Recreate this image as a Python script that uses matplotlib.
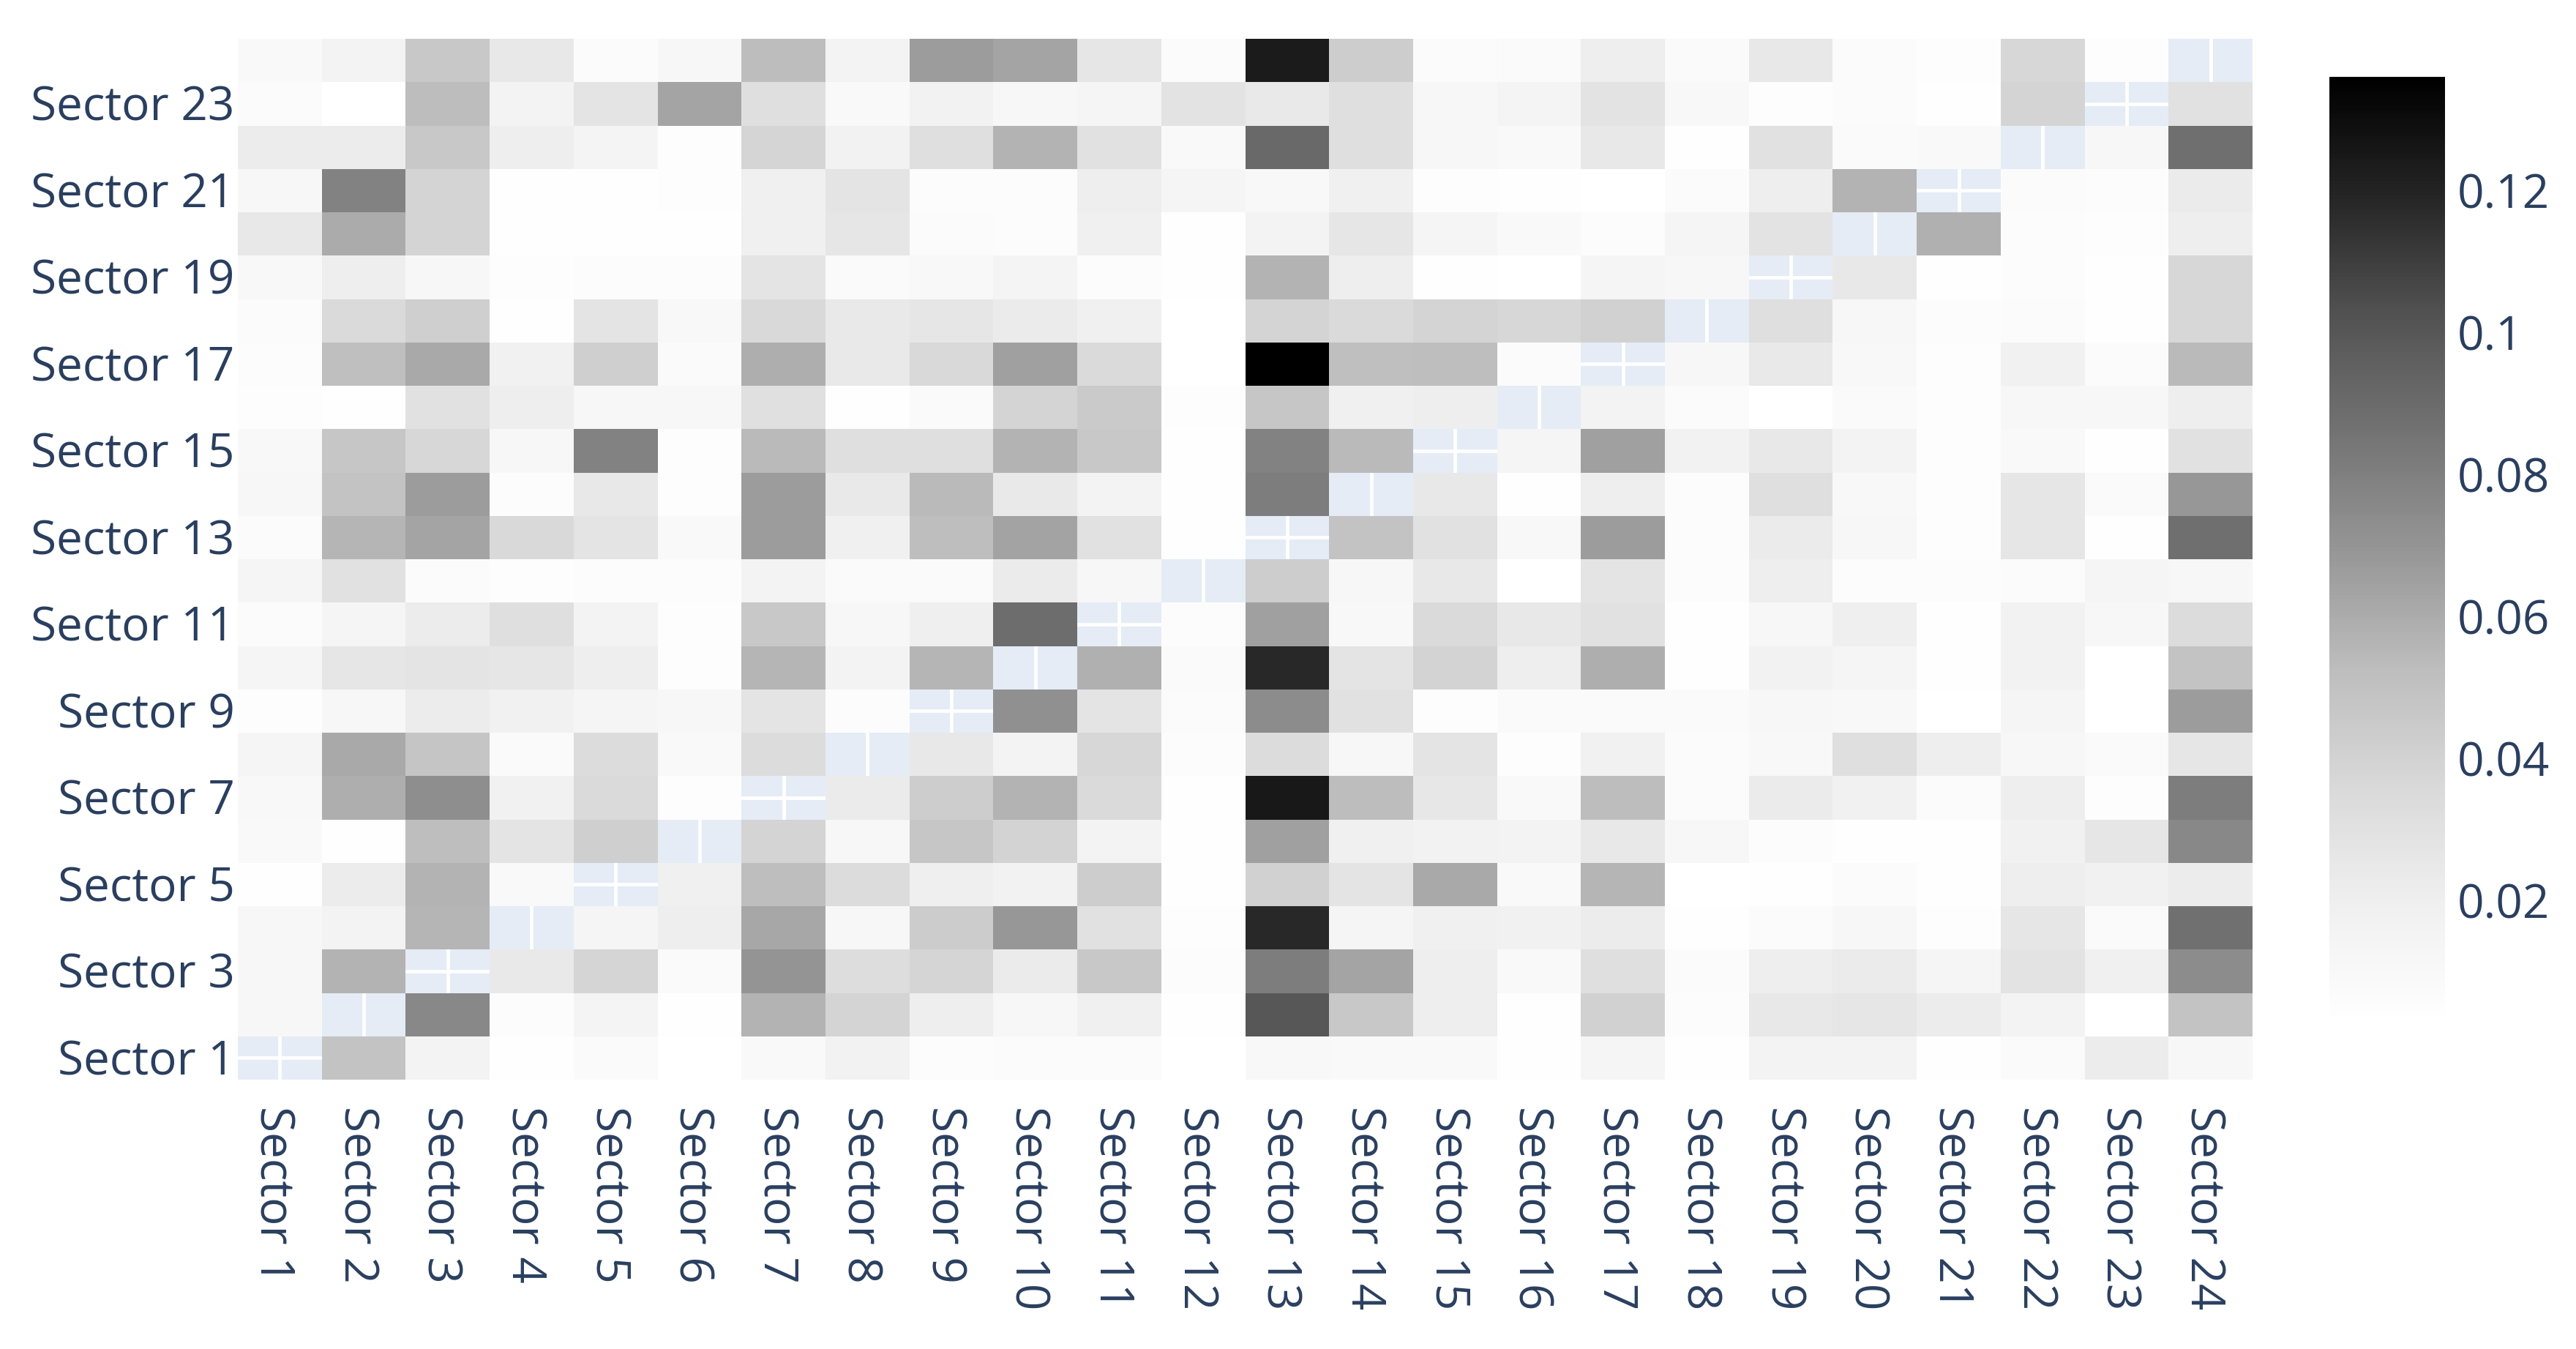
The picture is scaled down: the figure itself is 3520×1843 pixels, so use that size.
import numpy as np
import matplotlib
matplotlib.use("Agg")
import matplotlib.pyplot as plt
from matplotlib.colors import LinearSegmentedColormap
from matplotlib.transforms import ScaledTranslation

plt.rcParams['font.family'] = ['Open Sans', 'DejaVu Sans']

nan = float('nan')
sectors = [f"Sector {i}" for i in range(1, 25)]

s1 = [nan,.049,.016,.004,.008,.003,.009,.017,.006,.007,.007,.003,.010,.009,.009,.004,.014,.004,.016,.016,.004,.008,.022,.012]
s2 = [.012,nan,.076,.006,.015,.004,.057,.039,.021,.012,.019,.004,.100,.046,.021,.004,.041,.006,.025,.027,.022,.016,.003,.049]
s3 = [.012,.057,nan,.024,.038,.008,.070,.033,.038,.023,.046,.006,.081,.063,.021,.009,.032,.007,.021,.023,.014,.029,.019,.074]
s4 = [.012,.016,.056,nan,.014,.021,.062,.011,.044,.069,.030,.005,.118,.014,.019,.018,.022,.004,.007,.012,.005,.027,.008,.087]
s5 = [.004,.022,.057,.009,nan,.019,.052,.034,.020,.017,.043,.004,.041,.028,.061,.009,.056,.003,.004,.007,.004,.021,.018,.022]
s6 = [.009,.004,.052,.028,.042,nan,.039,.012,.047,.040,.016,.004,.065,.019,.017,.016,.025,.012,.006,.004,.004,.018,.027,.076]
s7 = [.010,.059,.073,.018,.035,.005,nan,.023,.043,.057,.035,.004,.125,.053,.026,.009,.053,.007,.023,.018,.007,.021,.005,.081]
s8 = [.014,.061,.048,.008,.034,.009,.034,nan,.025,.016,.037,.006,.034,.012,.028,.005,.018,.007,.010,.032,.021,.011,.008,.027]
s9 = [.005,.012,.022,.018,.014,.011,.028,.006,nan,.072,.028,.007,.074,.030,.005,.008,.008,.008,.011,.010,.003,.014,.003,.067]
s10 = [.014,.027,.028,.027,.021,.005,.056,.016,.056,nan,.058,.008,.118,.028,.040,.021,.059,.004,.017,.014,.004,.017,.003,.049]
s11 = [.007,.014,.022,.032,.016,.005,.046,.011,.020,.089,nan,.006,.065,.010,.035,.025,.030,.004,.011,.020,.004,.017,.012,.034]
s12 = [.014,.030,.007,.005,.006,.006,.016,.008,.008,.023,.011,nan,.043,.011,.025,.003,.028,.006,.021,.006,.006,.007,.014,.012]
s13 = [.007,.056,.063,.036,.028,.009,.067,.019,.052,.064,.030,.004,nan,.049,.030,.010,.067,.006,.023,.011,.005,.027,.004,.088]
s14 = [.012,.049,.067,.006,.025,.005,.067,.024,.054,.024,.016,.004,.081,nan,.025,.004,.021,.006,.032,.010,.005,.027,.008,.069]
s15 = [.010,.047,.037,.012,.079,.005,.054,.032,.032,.057,.046,.004,.079,.054,nan,.014,.065,.017,.025,.016,.005,.009,.004,.030]
s16 = [.005,.004,.030,.021,.012,.011,.031,.004,.008,.039,.045,.005,.047,.019,.021,nan,.016,.007,.003,.008,.005,.012,.011,.021]
s17 = [.006,.051,.061,.018,.042,.008,.059,.024,.036,.065,.035,.003,.136,.051,.052,.007,nan,.011,.024,.010,.005,.018,.007,.054]
s18 = [.007,.035,.042,.004,.028,.010,.036,.024,.027,.023,.019,.003,.039,.035,.039,.037,.041,nan,.032,.011,.006,.007,.004,.037]
s19 = [.010,.021,.012,.005,.006,.006,.028,.008,.010,.015,.006,.004,.057,.021,.004,.003,.014,.011,nan,.025,.004,.006,.004,.037]
s20 = [.025,.060,.039,.004,.004,.004,.019,.027,.007,.006,.019,.004,.016,.027,.014,.009,.006,.014,.029,nan,.058,.006,.005,.021]
s21 = [.011,.079,.039,.004,.004,.005,.019,.028,.006,.006,.021,.014,.010,.019,.005,.004,.003,.007,.021,.057,nan,.007,.006,.023]
s22 = [.022,.022,.046,.021,.015,.005,.038,.017,.032,.057,.030,.009,.091,.032,.011,.009,.025,.004,.030,.008,.009,nan,.011,.088]
s23 = [.007,.003,.053,.016,.028,.063,.032,.009,.017,.011,.014,.029,.024,.032,.011,.015,.029,.010,.005,.007,.004,.039,nan,.030]
s24 = [.009,.016,.046,.025,.007,.011,.053,.016,.067,.063,.027,.007,.124,.043,.007,.008,.021,.008,.025,.007,.005,.037,.005,nan]

rows = [s1, s2, s3, s4, s5, s6, s7, s8, s9, s10, s11, s12, s13, s14, s15, s16,
        s17, s18, s19, s20, s21, s22, s23, s24]
cbar_ticks = [0.02, 0.04, 0.06, 0.08, 0.1, 0.12]
cbar_labels = ["0.02", "0.04", "0.06", "0.08", "0.1", "0.12"]

W, H = 3520, 1843
TXT = '#2a3f5f'
FS = 46
cmap = LinearSegmentedColormap.from_list(
    'greys', ['#ffffff', '#f0f0f0', '#d9d9d9', '#bdbdbd', '#969696',
              '#737373', '#525252', '#252525', '#000000'], N=256)

fig = plt.figure(figsize=(W / 100, H / 100), dpi=100, facecolor='white')
L, R, T, B = 325, 3078, 53, 1475
ax = fig.add_axes([L / W, 1 - B / H, (R - L) / W, (B - T) / H])
ax.set_facecolor('#E5ECF6')

Z = np.ma.masked_invalid(np.array(rows, dtype=float))
xe = np.arange(25) - 0.5
mesh = ax.pcolormesh(xe, xe, Z, cmap=cmap, vmin=0.0025, vmax=0.136,
                     antialiased=False, linewidth=0, zorder=1)
ax.set_xlim(-0.5, 23.5)
ax.set_ylim(-0.5, 23.5)
ax.set_axisbelow(True)

ax.set_xticks(range(24))
ax.set_xticklabels(sectors, rotation=-90, ha='center', va='top')
ax.set_yticks(range(0, 24, 2))
ax.set_yticklabels(sectors[0::2], ha='right', va='center')
ax.tick_params(axis='x', length=0, pad=26, labelsize=FS, labelcolor=TXT)
ax.tick_params(axis='y', length=0, pad=3, labelsize=FS, labelcolor=TXT)
ax.grid(True, color='white', linewidth=3.4, zorder=0.5)
for sp in ax.spines.values():
    sp.set_visible(False)

# nudge tick labels to the reference's text placement
for lab in ax.get_xticklabels():
    lab.set_transform(lab.get_transform() + ScaledTranslation(-10 / 100, 0, fig.dpi_scale_trans))
for lab in ax.get_yticklabels():
    lab.set_transform(lab.get_transform() + ScaledTranslation(0, -6 / 100, fig.dpi_scale_trans))

CL, CR, CT, CB = 3183, 3341, 105, 1400
cax = fig.add_axes([CL / W, 1 - CB / H, (CR - CL) / W, (CB - CT) / H])
cb = fig.colorbar(mesh, cax=cax)
cb.outline.set_visible(False)
cb.set_ticks(cbar_ticks)
cb.set_ticklabels(cbar_labels)
cax.tick_params(length=0, pad=12, labelsize=FS, labelcolor=TXT)

fig.savefig('out.png', dpi=100, facecolor='white')
